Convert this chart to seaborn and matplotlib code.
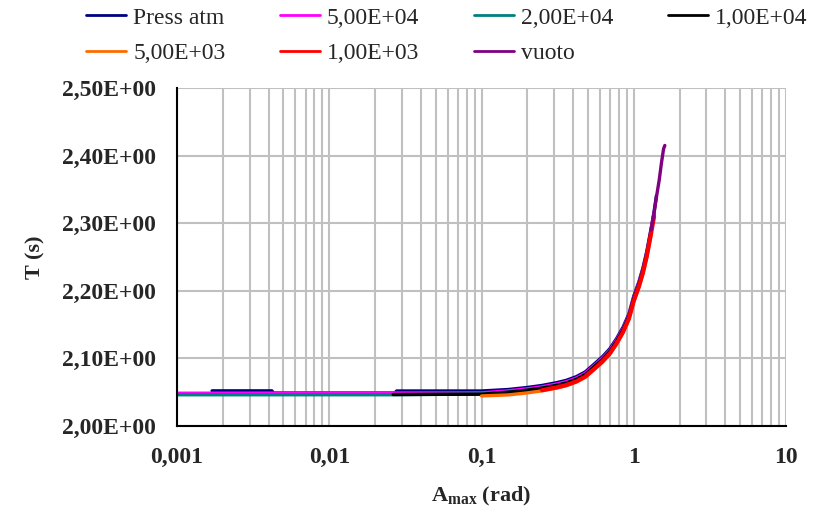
import numpy as np
import pandas as pd
import matplotlib
matplotlib.use("Agg")
import matplotlib.pyplot as plt
from matplotlib.ticker import FixedLocator, FixedFormatter, FuncFormatter, LogLocator, NullFormatter
import seaborn as sns

# Period T (s) against maximum amplitude A_max (rad) for several pressures
series_names = ["Press atm", "5,00E+04", "2,00E+04", "1,00E+04", "5,00E+03", "1,00E+03", "vuoto"]
series_colors = ["#000080", "#ff00ff", "#008080", "#000000", "#ff6a00", "#ff0000", "#800080"]

press_atm_A = [0.0017, 0.0042, 0.0043, 0.027, 0.0277, 0.1, 0.15, 0.2, 0.25, 0.31, 0.36, 0.42, 0.48,
               0.54, 0.62, 0.695, 0.77, 0.85, 0.93, 1.0, 1.08, 1.15, 1.22, 1.3, 1.36, 1.41]
press_atm_T = [2.052, 2.052, 2.0488, 2.0488, 2.0518, 2.0518, 2.054, 2.057, 2.060, 2.064, 2.0675, 2.073, 2.080,
               2.090, 2.102, 2.114, 2.129, 2.146, 2.166, 2.192, 2.213, 2.234, 2.259, 2.292, 2.317, 2.341]

p5e4_A = [0.001, 0.1, 0.15, 0.2, 0.25, 0.31, 0.36, 0.42, 0.48, 0.54, 0.62, 0.695, 0.77, 0.85,
          0.93, 1.0, 1.08, 1.15, 1.22, 1.3, 1.36]
p5e4_T = [2.0485, 2.0490, 2.052, 2.055, 2.058, 2.062, 2.0655, 2.071, 2.078, 2.088, 2.100, 2.112, 2.127, 2.144,
          2.164, 2.190, 2.211, 2.232, 2.257, 2.290, 2.315]

p2e4_A = [0.001, 0.026, 0.1, 0.15, 0.2, 0.25, 0.31, 0.36, 0.42, 0.48, 0.54, 0.62, 0.695, 0.77, 0.85,
          0.93, 1.0, 1.08, 1.15, 1.22, 1.3, 1.36]
p2e4_T = [2.0462, 2.0462, 2.0475, 2.050, 2.053, 2.056, 2.060, 2.0635, 2.069, 2.076, 2.086, 2.098, 2.110, 2.125,
          2.142, 2.162, 2.188, 2.209, 2.230, 2.255, 2.288, 2.313]

p1e4_A = [0.0263, 0.1, 0.15, 0.2, 0.25, 0.31, 0.36, 0.42, 0.48, 0.54, 0.62, 0.695, 0.77, 0.85,
          0.93, 1.0, 1.08, 1.15, 1.22, 1.3]
p1e4_T = [2.0466, 2.0470, 2.0500, 2.0530, 2.0560, 2.0600, 2.0635, 2.069, 2.076, 2.086, 2.098, 2.110, 2.125, 2.142,
          2.162, 2.188, 2.209, 2.230, 2.255, 2.288]

p5e3_A = [0.1, 0.15, 0.2, 0.25, 0.31, 0.36, 0.42, 0.48, 0.54, 0.62, 0.695, 0.77, 0.85,
          0.93, 1.0, 1.08, 1.15, 1.22, 1.3]
p5e3_T = [2.0445, 2.046, 2.049, 2.052, 2.056, 2.0595, 2.065, 2.072, 2.082, 2.094, 2.106, 2.121, 2.138,
          2.158, 2.184, 2.205, 2.226, 2.251, 2.284]

p1e3_A = [0.25, 0.31, 0.36, 0.42, 0.48, 0.54, 0.62, 0.695, 0.77, 0.85, 0.93, 1.0, 1.08, 1.15,
          1.22, 1.3, 1.36]
p1e3_T = [2.053, 2.057, 2.0605, 2.066, 2.073, 2.083, 2.095, 2.107, 2.122, 2.139, 2.159, 2.185, 2.206, 2.227,
          2.252, 2.285, 2.310]

vuoto_A = [1.3, 1.36, 1.41, 1.47, 1.52, 1.57, 1.6]
vuoto_T = [2.290, 2.315, 2.339, 2.364, 2.389, 2.410, 2.415]

x_tick_values = [0.001, 0.01, 0.1, 1, 10]
x_tick_labels = ["0,001", "0,01", "0,1", "1", "10"]
y_tick_values = [2.0, 2.1, 2.2, 2.3, 2.4, 2.5]

all_A = [press_atm_A, p5e4_A, p2e4_A, p1e4_A, p5e3_A, p1e3_A, vuoto_A]
all_T = [press_atm_T, p5e4_T, p2e4_T, p1e4_T, p5e3_T, p1e3_T, vuoto_T]

frames = []
for name, a, t in zip(series_names, all_A, all_T):
    frames.append(pd.DataFrame({"A": a, "T": t, "serie": name, "idx": np.arange(len(a))}))
df = pd.concat(frames, ignore_index=True)

sns.set_theme(style="white")
plt.rcParams["font.family"] = ["Liberation Serif", "DejaVu Serif"]
plt.rcParams["mathtext.fontset"] = "custom"
plt.rcParams["mathtext.rm"] = "Liberation Serif"
plt.rcParams["mathtext.bf"] = "Liberation Serif:bold"

fig = plt.figure(figsize=(8.23, 5.13), dpi=100)
ax = fig.add_axes([177 / 823, 1 - 426 / 513, (786 - 177) / 823, (426 - 88) / 513])

for name, color in zip(series_names, series_colors):
    sub = df[df["serie"] == name]
    lw = 3.0 if name == "1,00E+03" else 2.4
    sns.lineplot(data=sub, x="A", y="T", ax=ax, color=color, lw=lw, label=name,
                 estimator=None, sort=False, legend=False)

ax.set_xscale("log")
ax.set_xlim(0.001, 10)
ax.set_ylim(2.0, 2.5)

ax.xaxis.set_major_locator(FixedLocator(x_tick_values))
ax.xaxis.set_major_formatter(FixedFormatter(x_tick_labels))
ax.xaxis.set_minor_locator(LogLocator(base=10, subs=np.arange(2, 10)))
ax.xaxis.set_minor_formatter(NullFormatter())
ax.yaxis.set_major_locator(FixedLocator(y_tick_values))
ax.yaxis.set_major_formatter(FuncFormatter(lambda v, p: f"{v:.2f}".replace(".", ",") + "E+00"))

ax.grid(True, which="major", color="#c0c0c0", lw=1.5)
ax.grid(True, which="minor", axis="x", color="#c0c0c0", lw=1.5)
ax.set_axisbelow(True)

for side in ["top", "right"]:
    ax.spines[side].set_visible(False)
for side in ["left", "bottom"]:
    ax.spines[side].set_color("black")
    ax.spines[side].set_linewidth(1.5)

ax.tick_params(axis="both", which="major", direction="out", length=7, width=1.5, color="black",
               labelsize=17, pad=8)
ax.tick_params(axis="x", which="minor", length=0)
for lab in ax.get_xticklabels() + ax.get_yticklabels():
    lab.set_fontweight("bold")

ax.set_xlabel(r"A$_{\mathbf{max}}$ (rad)", fontsize=16, fontweight="bold", labelpad=12)
ax.set_ylabel("T (s)", fontsize=16, fontweight="bold", labelpad=12)

# legend entries laid out row by row (matplotlib fills columns first)
handles = [plt.Line2D([], [], color=c, lw=2) for c in series_colors]
order = [0, 4, 1, 5, 2, 6, 3]
fig.legend([handles[i] for i in order], [series_names[i] for i in order],
           loc="upper left", bbox_to_anchor=(86 / 823, 1 - 7 / 513), ncol=4,
           frameon=False, fontsize=17, handlelength=1.7, handletextpad=0.3, columnspacing=2.3,
           borderpad=0, borderaxespad=0, labelspacing=0.6)

fig.savefig("out.png", dpi=100)
